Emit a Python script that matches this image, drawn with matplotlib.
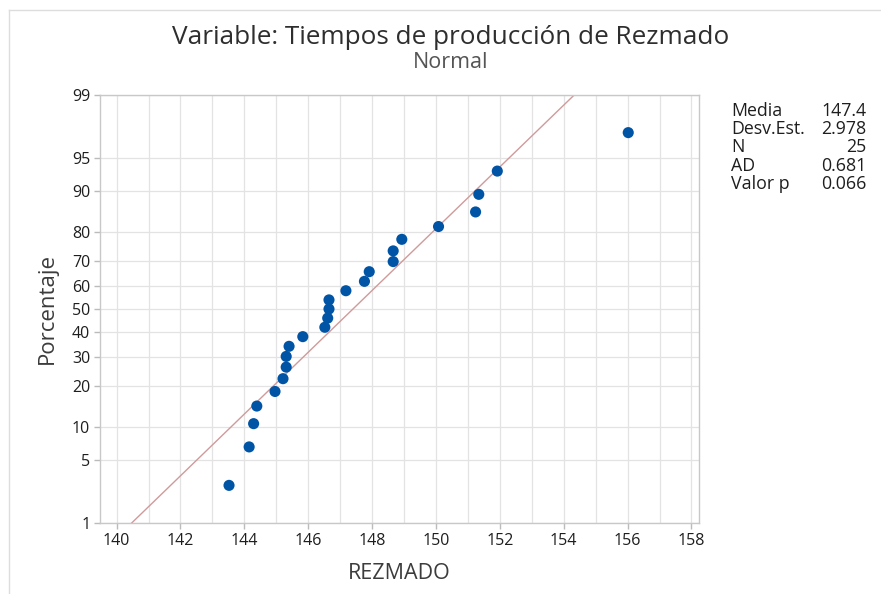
import numpy as np
import matplotlib
matplotlib.use("Agg")
import matplotlib.pyplot as plt
from matplotlib.lines import Line2D
import math

# ---- data ----
rezmado = [143.52, 144.15, 144.29, 144.39, 144.96, 145.21, 145.31, 145.31, 145.40, 145.83,
           146.52, 146.61, 146.65, 146.65, 147.18, 147.76, 147.91, 148.66, 148.66, 148.93,
           150.08, 151.24, 151.34, 151.92, 156.02]
porcentaje = [2.76, 6.69, 10.63, 14.57, 18.50, 22.44, 26.38, 30.31, 34.25, 38.19,
              42.13, 46.06, 50.00, 53.94, 57.87, 61.81, 65.75, 69.69, 73.62, 77.56,
              81.50, 85.43, 89.37, 93.31, 97.24]
media = 147.4
desv = 2.978
stat_labels = ["Media", "Desv.Est.", "N", "AD", "Valor p"]
stat_values = ["147.4", "2.978", "25", "0.681", "0.066"]
x_ticks = [140, 142, 144, 146, 148, 150, 152, 154, 156, 158]
y_ticks = [1, 5, 10, 20, 30, 40, 50, 60, 70, 80, 90, 95, 99]


def _ppf(p):
    p = np.asarray(p, dtype=float)
    a = [-3.969683028665376e+01, 2.209460984245205e+02, -2.759285104469687e+02,
         1.383577518672690e+02, -3.066479806614716e+01, 2.506628277459239e+00]
    b = [-5.447609879822406e+01, 1.615858368580409e+02, -1.556989798598866e+02,
         6.680131188771972e+01, -1.328068155288572e+01]
    c = [-7.784894002430293e-03, -3.223964580411365e-01, -2.400758277161838e+00,
         -2.549732539343734e+00, 4.374664141464968e+00, 2.938163982698783e+00]
    d = [7.784695709041462e-03, 3.224671290700398e-01, 2.445134137142996e+00,
         3.754408661907416e+00]
    p = np.clip(p, 1e-12, 1 - 1e-12)
    out = np.empty_like(p)
    plow = 0.02425
    lo = p < plow
    hi = p > 1 - plow
    mid = ~(lo | hi)
    q = np.sqrt(-2 * np.log(p[lo]))
    out[lo] = (((((c[0]*q+c[1])*q+c[2])*q+c[3])*q+c[4])*q+c[5]) / ((((d[0]*q+d[1])*q+d[2])*q+d[3])*q+1)
    q = np.sqrt(-2 * np.log(1 - p[hi]))
    out[hi] = -(((((c[0]*q+c[1])*q+c[2])*q+c[3])*q+c[4])*q+c[5]) / ((((d[0]*q+d[1])*q+d[2])*q+d[3])*q+1)
    q = p[mid] - 0.5
    r = q * q
    out[mid] = (((((a[0]*r+a[1])*r+a[2])*r+a[3])*r+a[4])*r+a[5])*q / (((((b[0]*r+b[1])*r+b[2])*r+b[3])*r+b[4])*r+1)
    return out


_erf = np.vectorize(math.erf)


def fwd(pct):
    return _ppf(np.asarray(pct, dtype=float) / 100.0)


def inv(z):
    z = np.asarray(z, dtype=float)
    return 50.0 * (1.0 + _erf(z / math.sqrt(2.0)))


plt.rcParams['font.family'] = ['Open Sans', 'DejaVu Sans']

fig = plt.figure(figsize=(8.81, 5.94), dpi=100)
ax = fig.add_axes([100/881, 1 - 523/594, (698.5-100)/881, (523-95)/594])
ax.set_yscale('function', functions=(fwd, inv))

# fitted line
ax.plot([media + desv * _ppf(np.array([0.01]))[0], media + desv * _ppf(np.array([0.99]))[0]],
        [1, 99], color='#D09A9A', lw=1.0, zorder=2)
ax.scatter(rezmado, porcentaje, s=64, color='#0054A6', zorder=3, edgecolors='none')

ax.set_xlim(139.48, 158.22)
ax.set_ylim(1, 99)
ax.set_xticks(x_ticks)
ax.set_xticks(np.arange(141, 158, 2), minor=True)
ax.set_yticks(y_ticks)
ax.set_yticklabels([str(t) for t in y_ticks])
ax.yaxis.set_minor_locator(matplotlib.ticker.NullLocator())
ax.grid(True, which='both', color='#E3E3E3', lw=0.9, zorder=0)
ax.set_axisbelow(True)
ax.tick_params(axis='both', which='major', direction='out', length=4, width=1,
               color='#BBBBBB', labelsize=11.5, labelcolor='#1E1E1E', pad=3)
ax.tick_params(axis='x', which='minor', length=0)
for s in ax.spines.values():
    s.set_color('#C8C8C8')
    s.set_linewidth(1.0)

ax.set_xlabel('REZMADO', fontsize=15.5, color='#3C3C3C', labelpad=10)
ax.set_ylabel('Porcentaje', fontsize=16, color='#3C3C3C', labelpad=10)

fig.text(451/881, 1 - 38/594, 'Variable: Tiempos de producción de Rezmado', ha='center', va='center',
         fontsize=18.8, color='#2E2E2E')
fig.text(451/881, 1 - 62/594, 'Normal', ha='center', va='center', fontsize=15.5, color='#555555')

for i, (lab, val) in enumerate(zip(stat_labels, stat_values)):
    yy = 1 - (111 + i * 18.2) / 594
    fig.text(731/881, yy, lab, ha='left', va='center', fontsize=12.8, color='#1E1E1E')
    fig.text(866/881, yy, val, ha='right', va='center', fontsize=12.8, color='#1E1E1E')

# window border
fig.add_artist(Line2D([8.5/881, 8.5/881], [0, 1 - 10/594], color='#DDDDDD', lw=1.0))
fig.add_artist(Line2D([8.5/881, 1], [1 - 10/594, 1 - 10/594], color='#DDDDDD', lw=1.0))

fig.savefig('out.png', dpi=100)
